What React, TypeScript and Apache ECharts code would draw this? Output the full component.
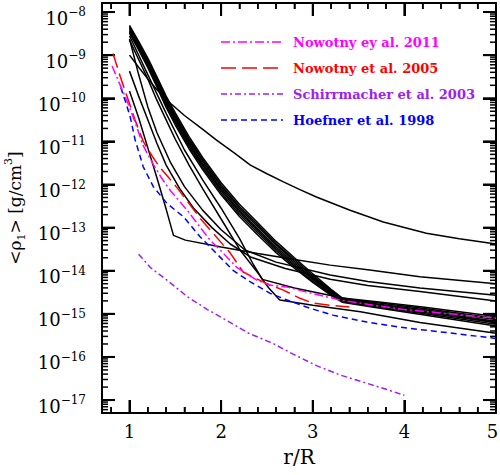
import React, { useEffect, useRef } from 'react';
import * as echarts from 'echarts';

const FONT = 'DejaVu Serif';
const X_MIN = 0.7;
const X_MAX = 5;
const Y_MIN = -17.3; // log10 of density
const Y_MAX = -7.79;

// ---- black model curves: x = r/R, values = log10 <rho1> [g/cm^3]
const X_BUNDLE = [1.0, 1.1, 1.2, 1.3, 1.4, 1.5, 1.65, 1.8, 2.0, 2.2, 2.4, 2.6, 2.8, 3.0, 3.2, 3.32, 3.7, 4.2, 5.0];
const LOG_B1 = [-8.31, -8.68, -9.07, -9.50, -9.95, -10.34, -10.89, -11.38, -11.96, -12.46, -12.89, -13.32, -13.70, -14.07, -14.43, -14.63, -14.72, -14.84, -15.06];
const LOG_B2 = [-8.34, -8.72, -9.11, -9.54, -10.00, -10.39, -10.94, -11.43, -12.01, -12.51, -12.94, -13.37, -13.74, -14.11, -14.45, -14.65, -14.74, -14.87, -15.10];
const LOG_B3 = [-8.37, -8.75, -9.14, -9.58, -10.03, -10.43, -10.98, -11.47, -12.05, -12.55, -12.98, -13.40, -13.78, -14.14, -14.48, -14.66, -14.77, -14.90, -15.13];
const LOG_B4 = [-8.40, -8.78, -9.18, -9.62, -10.08, -10.48, -11.03, -11.52, -12.10, -12.60, -13.03, -13.45, -13.82, -14.17, -14.50, -14.68, -14.79, -14.93, -15.17];
const LOG_B5 = [-8.43, -8.81, -9.21, -9.66, -10.12, -10.52, -11.07, -11.56, -12.14, -12.64, -13.07, -13.49, -13.86, -14.20, -14.52, -14.70, -14.81, -14.96, -15.20];
const LOG_B6 = [-8.46, -8.85, -9.25, -9.70, -10.16, -10.57, -11.12, -11.61, -12.19, -12.69, -13.12, -13.53, -13.90, -14.24, -14.55, -14.71, -14.84, -14.99, -15.24];
const LOG_B7 = [-8.49, -8.88, -9.29, -9.74, -10.21, -10.62, -11.17, -11.66, -12.24, -12.74, -13.17, -13.58, -13.94, -14.27, -14.57, -14.73, -14.86, -15.02, -15.28];

const X_SH = [1.0, 1.1, 1.2, 1.3, 1.45, 1.6, 1.8, 1.95, 2.15, 2.32, 2.5, 2.68, 2.86, 3.04, 3.4, 3.77, 4.24, 4.6, 5.0];
const LOG_SH = [-9.0, -9.28, -9.55, -9.8, -10.12, -10.4, -10.72, -10.97, -11.28, -11.55, -11.75, -11.94, -12.12, -12.29, -12.59, -12.87, -13.13, -13.26, -13.38];

const X_K1 = [1.0, 1.1, 1.2, 1.3, 1.4, 1.48, 1.61, 2.0, 2.4, 2.8, 3.19, 3.6, 4.17, 5.0];
const LOG_K1 = [-9.83, -10.45, -11.15, -11.85, -12.57, -13.18, -13.29, -13.45, -13.6, -13.74, -13.87, -13.98, -14.14, -14.30];

const X_S1 = [1.0, 1.1, 1.2, 1.3, 1.45, 1.6, 1.8, 2.0, 2.26, 2.6, 3.19, 3.6, 4.17, 5.0];
const LOG_S1 = [-8.62, -9.45, -10.2, -10.8, -11.5, -12.05, -12.6, -13.05, -13.52, -13.8, -14.10, -14.25, -14.40, -14.57];

const X_S2 = [1.0, 1.1, 1.2, 1.3, 1.4, 1.55, 1.7, 1.9, 2.1, 2.32, 2.7, 3.19, 3.6, 4.17, 5.0];
const LOG_S2 = [-9.37, -9.95, -10.5, -11.05, -11.55, -12.1, -12.55, -13.0, -13.38, -13.68, -13.95, -14.20, -14.34, -14.48, -14.70];

const X_LLOW = [1.0, 1.1, 1.2, 1.3, 1.4, 1.5, 1.65, 1.8, 2.0, 2.2, 2.4, 2.52, 2.64, 3.0, 3.52, 4.17, 5.0];
const LOG_LLOW = [-8.65, -9.1, -9.55, -10.05, -10.5, -10.95, -11.55, -12.1, -12.8, -13.5, -14.05, -14.4, -14.68, -14.8, -14.95, -15.2, -15.45];

const X_LMID = [1.0, 1.2, 1.4, 1.6, 1.8, 2.0, 2.2, 2.35, 2.45, 2.8, 3.3, 4.0, 5.0];
const LOG_LMID = [-8.55, -9.45, -10.35, -11.2, -11.9, -12.55, -13.25, -13.85, -14.2, -14.4, -14.62, -14.9, -15.2];

// ---- literature curves
const X_N11 = [0.81, 0.9, 0.98, 1.06, 1.15, 1.25, 1.35, 1.45, 1.55, 1.65, 1.77, 1.88, 1.99, 2.17, 2.39, 2.53, 2.72, 2.94, 3.16, 3.3, 3.6, 4.0, 4.5, 5.0];
const LOG_N11 = [-9.25, -9.7, -10.1, -10.55, -11.1, -11.5, -11.85, -12.15, -12.4, -12.65, -12.99, -13.29, -13.52, -13.92, -14.22, -14.33, -14.38, -14.50, -14.61, -14.68, -14.78, -14.90, -15.0, -15.1];

const X_N05 = [0.82, 0.9, 0.98, 1.06, 1.15, 1.25, 1.33, 1.42, 1.51, 1.6, 1.77, 1.9, 2.1, 2.24, 2.39, 2.53, 2.68, 2.86, 3.0, 3.19, 3.4];
const LOG_N05 = [-8.96, -9.5, -10.0, -10.5, -11.0, -11.35, -11.6, -11.82, -12.05, -12.3, -12.78, -13.1, -13.59, -14.03, -14.19, -14.33, -14.45, -14.64, -14.75, -14.80, -14.84];

const X_S03 = [1.10, 1.23, 1.41, 1.63, 1.85, 2.06, 2.30, 2.57, 2.80, 3.04, 3.30, 3.59, 3.80, 4.00];
const LOG_S03 = [-13.62, -13.93, -14.22, -14.60, -14.90, -15.15, -15.45, -15.69, -15.95, -16.2, -16.42, -16.61, -16.75, -16.89];

const X_H98 = [0.905, 0.96, 1.01, 1.06, 1.15, 1.26, 1.41, 1.59, 1.77, 1.88, 2.13, 2.32, 2.53, 2.72, 2.97, 3.22, 3.59, 3.95, 4.4, 5.0];
const LOG_H98 = [-9.75, -10.1, -10.45, -10.95, -11.59, -12.05, -12.44, -12.75, -13.21, -13.45, -13.99, -14.26, -14.52, -14.68, -14.87, -15.03, -15.19, -15.31, -15.42, -15.57];

const LEGEND_NAMES = ['Nowotny ey al. 2011', 'Nowotny et al. 2005', 'Schirrmacher et al. 2003', 'Hoefner et al. 1998'];
const LEGEND_COLORS = ['#ff00ff', '#ff0000', '#a020f0', '#0000ff'];
const LEGEND_DASH = [[9, 3, 2, 3], [15, 6], [6, 3, 2, 3], [6, 4]];

// ---- tick positions
const X_MAJOR = [1, 2, 3, 4, 5];
const X_MINOR = [0.8, 1.2, 1.4, 1.6, 1.8, 2.2, 2.4, 2.6, 2.8, 3.2, 3.4, 3.6, 3.8, 4.2, 4.4, 4.6, 4.8];
const Y_MAJOR = [-17, -16, -15, -14, -13, -12, -11, -10, -9, -8];
const MINOR_MULT = [2, 3, 4, 5, 6, 7, 8, 9];
const DECADES = [-18, -17, -16, -15, -14, -13, -12, -11, -10, -9, -8];

const GRID = { left: 102, right: 4, top: 3, bottom: 62 };
const W = 500;
const H = 475;
const MAJOR_PX = 13;
const MINOR_PX = 6;

const pairs = (xs: number[], ys: number[]) => xs.map((x, i) => [x, ys[i]]);
const isInt = (v: number) => Math.abs(v - Math.round(v)) < 1e-6;

export default function App() {
  const ref = useRef<HTMLDivElement>(null);
  useEffect(() => {
    const chart = echarts.init(ref.current!, null, { renderer: 'svg' });

    const blackSets: [string, number[], number[]][] = [
      ['Model B1', X_BUNDLE, LOG_B1],
      ['Model B2', X_BUNDLE, LOG_B2],
      ['Model B3', X_BUNDLE, LOG_B3],
      ['Model B4', X_BUNDLE, LOG_B4],
      ['Model B5', X_BUNDLE, LOG_B5],
      ['Model B6', X_BUNDLE, LOG_B6],
      ['Model B7', X_BUNDLE, LOG_B7],
      ['Model SH', X_SH, LOG_SH],
      ['Model K1', X_K1, LOG_K1],
      ['Model S1', X_S1, LOG_S1],
      ['Model S2', X_S2, LOG_S2],
      ['Model L1', X_LLOW, LOG_LLOW],
      ['Model L2', X_LMID, LOG_LMID],
    ];
    const colorSets: [number, number[], number[]][] = [
      [3, X_H98, LOG_H98],
      [2, X_S03, LOG_S03],
      [1, X_N05, LOG_N05],
      [0, X_N11, LOG_N11],
    ];

    const series: any[] = [];
    blackSets.forEach(([name, xs, ys]) => series.push({
      type: 'line', name, data: pairs(xs, ys), symbol: 'none', smooth: false,
      lineStyle: { color: '#000', width: 1.5 }, z: 2, silent: true,
    }));
    colorSets.forEach(([i, xs, ys]) => series.push({
      type: 'line', name: LEGEND_NAMES[i], data: pairs(xs, ys), symbol: 'none', smooth: false,
      lineStyle: { color: LEGEND_COLORS[i], width: 1.5, type: LEGEND_DASH[i] }, z: 3, silent: true,
    }));

    const graphic: any[] = [];
    LEGEND_NAMES.forEach((name, i) => {
      const y = 42 + i * 26;
      graphic.push({
        type: 'line', shape: { x1: 221, y1: y, x2: 283, y2: y },
        style: { stroke: LEGEND_COLORS[i], lineWidth: 1.5, lineDash: LEGEND_DASH[i] },
      });
      graphic.push({
        type: 'text', x: 293, y,
        style: {
          text: name, fill: LEGEND_COLORS[i], font: `bold 13px "${FONT}"`,
          textAlign: 'left', textVerticalAlign: 'middle', align: 'left', verticalAlign: 'middle',
        },
      });
    });

    // tick marks on the grid's linear value mapping
    const plotW = W - GRID.left - GRID.right;
    const plotH = H - GRID.top - GRID.bottom;
    const px = (x: number) => GRID.left + ((x - X_MIN) / (X_MAX - X_MIN)) * plotW;
    const py = (y: number) => GRID.top + ((Y_MAX - y) / (Y_MAX - Y_MIN)) * plotH;
    const seg = (x1: number, y1: number, x2: number, y2: number, w: number) => graphic.push({
      type: 'line', shape: { x1, y1, x2, y2 }, style: { stroke: '#000', lineWidth: w },
    });
    const addX = (v: number, len: number, w: number) => {
      const cx = px(v);
      seg(cx, H - GRID.bottom, cx, H - GRID.bottom - len, w);
      seg(cx, GRID.top, cx, GRID.top + len, w);
    };
    const addY = (v: number, len: number, w: number) => {
      const cy = py(v);
      seg(GRID.left, cy, GRID.left + len, cy, w);
      seg(W - GRID.right, cy, W - GRID.right - len, cy, w);
    };
    X_MAJOR.forEach((v) => addX(v, MAJOR_PX, 2));
    X_MINOR.forEach((v) => addX(v, MINOR_PX, 1.5));
    Y_MAJOR.forEach((v) => addY(v, MAJOR_PX, 2));
    DECADES.forEach((k) => MINOR_MULT.forEach((m) => {
      const v = k + Math.log10(m);
      if (v > Y_MIN && v < Y_MAX) addY(v, MINOR_PX, 1.5);
    }));

    const axisLine = { show: true, onZero: false, lineStyle: { color: '#000', width: 2 } };
    const tick = { show: true, inside: true, length: MAJOR_PX, lineStyle: { color: '#000', width: 2 } };
    const xBase = {
      type: 'value', min: X_MIN, max: X_MAX, splitNumber: 4,
      axisLine, axisTick: tick,
      minorTick: { show: true, splitNumber: 5, length: MINOR_PX, lineStyle: { color: '#000', width: 1.5 } },
      splitLine: { show: false },
    };
    const yBase = {
      type: 'value', min: Y_MIN, max: Y_MAX, splitNumber: 10,
      axisLine, axisTick: tick, splitLine: { show: false },
    };

    chart.setOption({
      animation: false,
      backgroundColor: '#fff',
      grid: { ...GRID, containLabel: false, outerBoundsMode: 'none' },
      xAxis: [
        {
          ...xBase, position: 'bottom',
          axisLabel: {
            formatter: (v: number) => (isInt(v) ? (Math.round(v) === 5 ? '{r|5}' : String(Math.round(v))) : ''),
            fontFamily: FONT, fontSize: 18, color: '#000', margin: 9,
            showMinLabel: true, showMaxLabel: true, hideOverlap: false,
            rich: { r: { fontFamily: FONT, fontSize: 18, color: '#000', padding: [0, 7, 0, 0] } },
          },
          name: 'r/R', nameLocation: 'middle', nameGap: 34,
          nameTextStyle: { fontFamily: FONT, fontSize: 20, color: '#000' },
        },
        { ...xBase, position: 'top', axisLabel: { show: false } },
      ],
      yAxis: [
        {
          ...yBase, position: 'left',
          axisLabel: {
            formatter: (v: number) => (isInt(v) ? `{b|10}{e|\u2212${Math.abs(Math.round(v))}}` : ''),
            margin: 16, hideOverlap: false,
            rich: {
              b: { fontFamily: FONT, fontSize: 18, color: '#000', lineHeight: 18, verticalAlign: 'bottom' },
              e: { fontFamily: FONT, fontSize: 12, color: '#000', lineHeight: 30, verticalAlign: 'middle' },
            },
          },
          name: '{n|<\u03c1}{s|1}{n|> [g/cm}{p|3}{n|]}',
          nameLocation: 'middle', nameGap: 68, nameRotate: 90,
          nameTextStyle: {
            rich: {
              n: { fontFamily: FONT, fontSize: 17, color: '#000', lineHeight: 24, verticalAlign: 'middle' },
              s: { fontFamily: FONT, fontSize: 11, color: '#000', lineHeight: 17, verticalAlign: 'bottom' },
              p: { fontFamily: FONT, fontSize: 11, color: '#000', lineHeight: 13, verticalAlign: 'top' },
            },
          },
        },
        { ...yBase, position: 'right', axisLabel: { show: false } },
      ],
      series,
      graphic,
    });
    return () => chart.dispose();
  }, []);
  return <div ref={ref} style={{ position: 'fixed', left: 0, top: 0, width: W, height: H, background: '#fff' }} />;
}
